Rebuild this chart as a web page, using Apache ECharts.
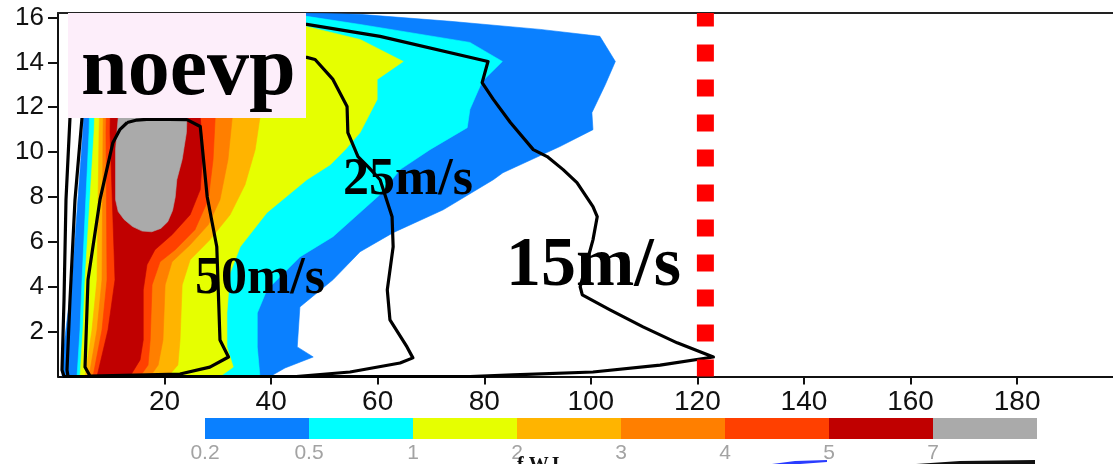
<!DOCTYPE html>
<html>
<head>
<meta charset="utf-8">
<script src="https://cdn.jsdelivr.net/npm/echarts@6/dist/echarts.min.js"></script>
<style>
  html, body { margin: 0; padding: 0; background: #ffffff; }
  #chart { width: 1113px; height: 464px; }
</style>
</head>
<body>
<div id="chart"></div>
<script>
// Shaded levels and their colours (colour i fills values >= contourLevels[i])
const contourLevels = [0.2, 0.5, 1, 2, 3, 4, 5, 7];
const levelColors = ['#0a80ff', '#00ffff', '#e6ff00', '#ffb400', '#ff7f00', '#ff4000', '#c00000', '#aaaaaa'];

// Filled regions as [radius, height] outlines, one per level
const fillAbove02 = [[0.75,0],[1.13,1.41],[2.63,4.31],[4.69,11.0],[5.3,16.2],[45.4,16.2],[56.7,16.14],[73.6,15.83],[90.5,15.47],[101.7,15.16],[104.6,14.04],[102.7,13.0],[100.2,11.76],[100.4,11.0],[94.2,10.25],[83.5,9.08],[81.7,8.77],[72.3,7.43],[62.9,6.41],[56.7,5.56],[51.6,4.31],[45.4,3.1],[44.9,1.32],[47.9,0.87],[42.6,0.38],[39.8,0]];
const fillAbove05 = [[3.57,0],[4.13,2.08],[4.51,4.31],[5.82,10.87],[6.4,16.2],[45.4,16.14],[46.7,16.05],[56.7,15.69],[77.3,14.89],[83.4,14.04],[79.6,13.15],[77.3,11.9],[76.8,11.09],[69.8,10.11],[64.2,9.22],[60.4,8.1],[51.6,6.23],[45.4,5.33],[39.2,3.86],[37.4,2.83],[37.4,1.32],[37.9,0]];
const fillAbove1 = [[4.13,0],[4.69,2.08],[5.07,4.31],[6.76,10.87],[7.5,16.2],[36.0,16.2],[46.6,15.6],[56.7,15.02],[64.8,14.04],[59.9,13.24],[59.9,12.35],[56.7,10.87],[53.9,10.11],[51.1,9.44],[46.7,8.77],[39.2,7.3],[34.2,5.78],[32.3,4.62],[31.7,2.83],[31.7,1.32],[32.9,0.42],[30.4,0]];
const fillAbove2 = [[5.07,0],[6.38,2.08],[7.32,4.31],[7.7,10.87],[8.3,16.2],[34.2,16.2],[37.9,11.54],[37.0,10.11],[35.1,8.55],[32.3,7.21],[28.5,6.09],[24.8,5.2],[23.3,4.08],[22.9,1.63],[22.5,0.51],[20.65,0]];
const fillAbove3 = [[5.82,0],[7.32,2.08],[8.26,4.31],[8.45,10.87],[8.8,16.2],[31.3,16.2],[32.7,11.54],[31.9,9.67],[30.4,7.88],[28.2,6.76],[24.8,5.87],[21.4,5.11],[20.1,4.08],[19.7,1.63],[18.8,0.51],[17.3,0]];
const fillAbove4 = [[6.57,0],[8.26,2.08],[9.2,4.31],[9.0,10.87],[9.4,16.2],[28.9,16.2],[29.5,11.54],[29.1,9.67],[28.2,7.88],[25.7,6.54],[22.0,5.65],[19.15,5.11],[17.65,4.08],[17.3,1.63],[16.9,0.51],[15.4,0]];
const fillAbove5 = [[7.32,0],[9.39,2.08],[10.7,4.31],[9.76,10.87],[10.1,16.2],[26.7,16.2],[26.7,11.54],[27.2,10.11],[26.7,8.33],[24.8,7.21],[21.4,6.32],[18.2,5.65],[16.7,4.98],[16.0,3.86],[16.0,1.63],[15.4,0.74],[13.5,0]];
const fillAbove7 = [[11.3,11.54],[10.8,10.11],[10.8,7.88],[11.3,7.35],[12.4,7.0],[14.0,6.68],[15.8,6.48],[17.6,6.45],[19.3,6.6],[20.6,6.9],[21.5,7.4],[22.0,8.0],[22.3,8.77],[23.3,9.67],[24.1,10.87],[24.2,11.54],[24.2,16.2],[11.6,16.2]];
const levelFills = [fillAbove02, fillAbove05, fillAbove1, fillAbove2, fillAbove3, fillAbove4, fillAbove5, fillAbove7];

// Wind speed isotachs (closed loops)
const isotach15 = [[2.25,11.54],[1.5,7.88],[1.13,3.42],[0.75,0.29],[1.13,0],[77.3,0],[85.4,0.07],[100.4,0.2],[113.0,0.51],[123.0,0.87],[116.2,1.5],[109.8,2.21],[103.6,2.97],[98.4,3.64],[98.0,4.0],[100.4,6.09],[101.2,7.12],[100.4,7.57],[97.4,8.64],[94.8,9.22],[91.8,9.8],[89.2,10.11],[84.9,11.32],[81.7,12.35],[79.6,13.1],[80.7,14.04],[60.45,15.16],[46.7,15.69],[26.7,16.0],[6.0,15.9],[2.6,14.1],[2.25,11.54]];
const isotach25 = [[4.51,11.54],[3.19,7.88],[2.25,3.42],[1.69,0.29],[1.88,0],[44.7,0],[54.8,0.2],[64.2,0.6],[66.6,0.83],[65.5,1.32],[62.3,2.52],[61.8,3.86],[62.9,5.78],[62.7,7.12],[60.45,8.77],[58.4,9.3],[56.3,9.8],[54.4,10.87],[54.25,12.03],[51.6,13.24],[48.25,14.13],[46.7,14.22],[36,14.35],[11.6,14.1],[6,12.8],[4.51,11.54]];
const isotach50 = [[13.0,11.32],[14.8,11.43],[17.3,11.47],[24.2,11.45],[26.7,11.14],[28.0,8.01],[29.8,5.78],[30.4,1.63],[32.0,0.87],[28.5,0.42],[22.9,0.11],[6.0,0.02],[5.07,0.42],[5.63,4.31],[7.88,7.88],[10.3,10.42],[11.6,11.0],[13.0,11.32]];

// Reference radius (dotted line)
const refRadius = [[121.5, 0], [121.5, 16.2]];

// Axis ticks
const xTicks = [20, 40, 60, 80, 100, 120, 140, 160, 180];
const yTicks = [2, 4, 6, 8, 10, 12, 14, 16];

const chart = echarts.init(document.getElementById('chart'), null, { renderer: 'canvas' });

function fillSeries(points, color, z) {
  return {
    type: 'custom',
    coordinateSystem: 'cartesian2d',
    clip: true,
    silent: true,
    z: z,
    data: [points[0]],
    renderItem: function (params, api) {
      return {
        type: 'polygon',
        shape: { points: points.map(function (p) { return api.coord(p); }) },
        style: { fill: color, stroke: color, lineWidth: 0.6 }
      };
    }
  };
}

function isotachSeries(points) {
  return {
    type: 'line',
    data: points,
    showSymbol: false,
    symbol: 'none',
    clip: true,
    silent: true,
    z: 20,
    lineStyle: { color: '#000000', width: 3.2, join: 'round' }
  };
}

const series = levelFills.map(function (pts, i) { return fillSeries(pts, levelColors[i], 2 + i); });
series.push(isotachSeries(isotach15), isotachSeries(isotach25), isotachSeries(isotach50));
series.push({
  type: 'line',
  data: refRadius,
  showSymbol: false,
  symbol: 'none',
  clip: true,
  silent: true,
  z: 30,
  lineStyle: { color: '#ff0000', width: 17, type: [17, 18], cap: 'butt' }
});

// Colour bar and its labels
const barLeft = 205, barTop = 418, segW = 104, barH = 21;
const graphics = [];
levelColors.forEach(function (c, i) {
  graphics.push({ type: 'rect', z: 100, silent: true,
    shape: { x: barLeft + i * segW, y: barTop, width: segW, height: barH },
    style: { fill: c } });
  graphics.push({ type: 'text', z: 100, silent: true,
    style: { text: String(contourLevels[i]), x: barLeft + i * segW, y: 453,
      align: 'center', verticalAlign: 'middle',
      font: '21px "Liberation Sans", Arial, sans-serif', fill: '#a3a3a3' } });
});

// Experiment label box
graphics.push({ type: 'rect', z: 100, silent: true,
  shape: { x: 68, y: 13, width: 238, height: 105 },
  style: { fill: '#fdeefa' } });
graphics.push({ type: 'text', z: 101, silent: true,
  style: { text: 'noevp', x: 81, y: 72, align: 'left', verticalAlign: 'middle',
    font: 'bold 84px "Liberation Serif", "Times New Roman", serif', fill: '#000000' } });

// Isotach annotations
[['25m/s', 343, 181, 52], ['50m/s', 195, 280, 52], ['15m/s', 506, 267, 70]].forEach(function (t) {
  graphics.push({ type: 'text', z: 101, silent: true,
    style: { text: t[0], x: t[1], y: t[2], align: 'left', verticalAlign: 'middle',
      font: 'bold ' + t[3] + 'px "Liberation Serif", "Times New Roman", serif', fill: '#000000' } });
});

// Edges of the panel below, cut off at the bottom
graphics.push({ type: 'polygon', z: 100, silent: true,
  shape: { points: [[772, 464], [795, 461], [827, 460], [827, 462], [800, 464]] },
  style: { fill: '#2a3cff' } });
graphics.push({ type: 'polygon', z: 100, silent: true,
  shape: { points: [[916, 464], [960, 461], [1035, 460], [1035, 464]] },
  style: { fill: '#111111' } });
graphics.push({ type: 'text', z: 100, silent: true,
  style: { text: 'f.W.I', x: 517, y: 456, align: 'left', verticalAlign: 'top',
    font: 'bold 20px "Liberation Serif", serif', fill: '#111111' } });

chart.setOption({
  animation: false,
  backgroundColor: '#ffffff',
  grid: { left: 58, right: 0, top: 13, bottom: 87.5, containLabel: false },
  xAxis: [{
    type: 'value', min: 0, max: 198, interval: 20,
    axisLine: { show: true, onZero: false, lineStyle: { color: '#111111', width: 2 } },
    axisTick: { show: true, inside: false, length: 8, customValues: xTicks, lineStyle: { color: '#111111', width: 2 } },
    axisLabel: { customValues: xTicks, margin: 12, fontSize: 28, color: '#111111', fontFamily: '"Liberation Sans", Arial, sans-serif' },
    splitLine: { show: false }
  }, {
    type: 'value', min: 0, max: 198, position: 'top',
    axisLine: { show: true, onZero: false, lineStyle: { color: '#222222', width: 2 } },
    axisTick: { show: false }, axisLabel: { show: false }, splitLine: { show: false }
  }],
  yAxis: {
    type: 'value', min: 0, max: 16.2, interval: 2,
    axisLine: { show: true, onZero: false, lineStyle: { color: '#111111', width: 2 } },
    axisTick: { show: true, inside: false, length: 10, customValues: yTicks, lineStyle: { color: '#111111', width: 2 } },
    axisLabel: { customValues: yTicks, margin: 14, fontSize: 26, color: '#111111', fontFamily: '"Liberation Sans", Arial, sans-serif' },
    splitLine: { show: false }
  },
  series: series,
  graphic: graphics
});
</script>
</body>
</html>
